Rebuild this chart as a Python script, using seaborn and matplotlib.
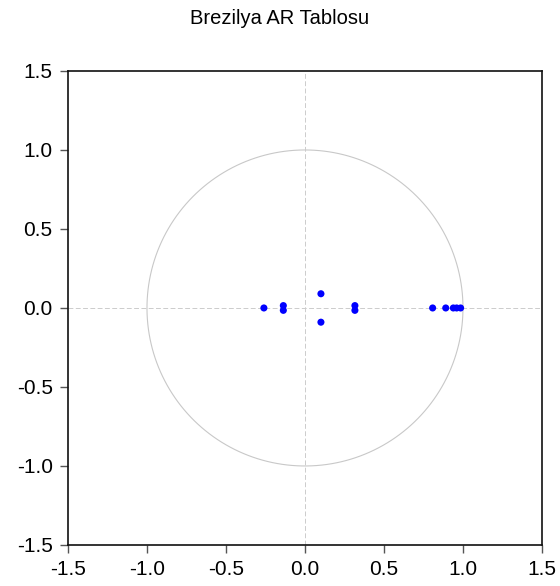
import numpy as np
import pandas as pd
import matplotlib
matplotlib.use("Agg")
import matplotlib.pyplot as plt
import seaborn as sns

# Inverse roots of the AR characteristic polynomial
root_real = [-0.26, -0.137, -0.137, 0.101, 0.101, 0.316, 0.316, 0.808, 0.891, 0.939, 0.960, 0.985]
root_imag = [0.0, 0.015, -0.015, 0.09, -0.09, 0.015, -0.015, 0.0, 0.0, 0.0, 0.0, 0.0]

ticks = [-1.5, -1.0, -0.5, 0.0, 0.5, 1.0, 1.5]
tick_labels = ["-1.5", "-1.0", "-0.5", "0.0", "0.5", "1.0", "1.5"]

sns.set_theme(style="white")
plt.rcParams["font.family"] = ["Liberation Sans", "DejaVu Sans"]

df = pd.DataFrame({"real": root_real, "imag": root_imag})

fig = plt.figure(figsize=(5.6, 5.86), dpi=100)
ax = fig.add_axes([0.1214, 0.070, 0.8464, 0.8089])

# Unit circle and reference axes
theta = np.linspace(0, 2 * np.pi, 400)
ax.plot(np.cos(theta), np.sin(theta), color="#c8c8c8", lw=0.8, zorder=1)
ax.axhline(0, color="#cccccc", lw=0.7, ls=(0, (5, 2.5)), zorder=1)
ax.axvline(0, color="#cccccc", lw=0.7, ls=(0, (5, 2.5)), zorder=1)

sns.scatterplot(data=df, x="real", y="imag", ax=ax, color="#0000ff",
                s=26, edgecolor="none", zorder=3)

ax.set_xlim(-1.5, 1.5)
ax.set_ylim(-1.5, 1.5)
ax.set_xticks(ticks)
ax.set_xticklabels(tick_labels)
ax.set_yticks(ticks)
ax.set_yticklabels(tick_labels)
ax.set_xlabel("")
ax.set_ylabel("")
ax.tick_params(axis="both", direction="out", length=6, width=1,
               color="#555555", labelsize=15, labelcolor="black", pad=5,
               bottom=True, left=True)
for sp in ax.spines.values():
    sp.set_color("#111111")
    sp.set_linewidth(1.2)

fig.text(0.5, 1 - 19 / 586, "Brezilya AR Tablosu", ha="center", va="center",
         fontsize=14.5, color="black")

fig.savefig("out.png", dpi=100)
